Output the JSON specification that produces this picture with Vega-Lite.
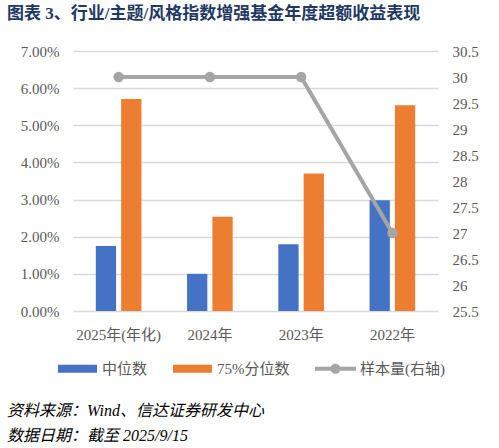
{
  "$schema": "https://vega.github.io/schema/vega-lite/v6.json",
  "width": 365,
  "height": 260,
  "autosize": {"type": "none"},
  "padding": {"left": 73, "top": 51, "right": 61, "bottom": 137},
  "background": "white",
  "title": {
    "text": "图表 3、行业/主题/风格指数增强基金年度超额收益表现",
    "anchor": "start",
    "frame": "group",
    "dx": -66,
    "offset": 21,
    "fontSize": 17,
    "fontWeight": "bold",
    "color": "#1F3864",
    "font": "Liberation Serif, Noto Sans CJK SC"
  },
  "config": {
    "view": {"stroke": null},
    "font": "Liberation Serif, Noto Sans CJK SC"
  },
  "datasets": {
    "bars": [
      {"year": "2025年(年化)", "series": "中位数", "value": 0.0175},
      {"year": "2025年(年化)", "series": "75%分位数", "value": 0.0571},
      {"year": "2024年", "series": "中位数", "value": 0.0100},
      {"year": "2024年", "series": "75%分位数", "value": 0.0254},
      {"year": "2023年", "series": "中位数", "value": 0.0180},
      {"year": "2023年", "series": "75%分位数", "value": 0.0370},
      {"year": "2022年", "series": "中位数", "value": 0.0298},
      {"year": "2022年", "series": "75%分位数", "value": 0.0554}
    ],
    "sample": [
      {"year": "2025年(年化)", "series": "样本量(右轴)", "n": 30},
      {"year": "2024年", "series": "样本量(右轴)", "n": 30},
      {"year": "2023年", "series": "样本量(右轴)", "n": 30},
      {"year": "2022年", "series": "样本量(右轴)", "n": 27}
    ]
  },
  "layer": [
    {
      "data": {"name": "bars"},
      "mark": {"type": "bar"},
      "encoding": {
        "x": {
          "field": "year",
          "type": "nominal",
          "scale": {"domain": ["2025年(年化)", "2024年", "2023年", "2022年"], "paddingInner": 0.5, "paddingOuter": 0.25},
          "axis": {
            "title": null,
            "labelAngle": 0,
            "domain": false,
            "ticks": false,
            "labelPadding": 16,
            "labelFontSize": 15,
            "labelColor": "#595959",
            "labelFont": "Liberation Serif, Noto Sans CJK SC"
          }
        },
        "xOffset": {
          "field": "series",
          "type": "nominal",
          "scale": {"domain": ["中位数", "75%分位数"], "paddingInner": 0.2, "paddingOuter": 0}
        },
        "y": {
          "field": "value",
          "type": "quantitative",
          "scale": {"domain": [0, 0.07]},
          "axis": {
            "title": null,
            "values": [0, 0.01, 0.02, 0.03, 0.04, 0.05, 0.06, 0.07],
            "format": ".2%",
            "grid": true,
            "gridColor": "#D9D9D9",
            "gridWidth": 1.5,
            "domain": false,
            "ticks": false,
            "labelPadding": 14,
            "labelFontSize": 15,
            "labelColor": "#595959",
            "labelFont": "Liberation Serif"
          }
        },
        "color": {
          "field": "series",
          "type": "nominal",
          "scale": {
            "domain": ["中位数", "75%分位数", "样本量(右轴)"],
            "range": ["#4472C4", "#ED7D31", "#A5A5A5"]
          },
          "legend": {
            "orient": "none",
            "legendX": -66,
            "legendY": 298,
            "direction": "horizontal",
            "title": ["资料来源：Wind、信达证券研发中心", "数据日期：截至 2025/9/15"],
            "titleOrient": "bottom",
            "titleAnchor": "start",
            "titleFontSize": 16,
            "titleFontStyle": "italic",
            "titleFontWeight": "normal",
            "titleColor": "#000000",
            "titleLineHeight": 25,
            "titlePadding": 26,
            "titleLimit": 1000,
            "titleFont": "Liberation Serif, Noto Sans CJK SC",
            "labelFontSize": 15,
            "labelColor": "#595959",
            "labelFont": "Liberation Serif, Noto Sans CJK SC",
            "labelOffset": 5,
            "labelLimit": 300,
            "symbolSize": 1521,
            "columnPadding": 25,
            "encode": {
              "symbols": {
                "update": {
                  "shape": {"signal": "datum.value === '样本量(右轴)' ? 'M-1.05,-0.1L-0.25,-0.1L-0.25,0.1L-1.05,0.1Z M0.25,-0.1L1.05,-0.1L1.05,0.1L0.25,0.1Z M-0.26,0A0.26,0.26 0 1,1 0.26,0A0.26,0.26 0 1,1 -0.26,0Z' : 'M-1,-0.2L1,-0.2L1,0.2L-1,0.2Z'"},
                  "fill": {"signal": "scale('color', datum.value)"},
                  "stroke": {"value": "transparent"},
                  "strokeWidth": {"value": 0},
                  "opacity": {"value": 1},
                  "fillOpacity": {"value": 1}
                }
              },
              "title": {
                "update": {"dx": {"value": -51}}
              }
            }
          }
        }
      }
    },
    {
      "data": {"name": "sample"},
      "mark": {"type": "line", "strokeWidth": 4, "point": {"filled": true, "size": 110}},
      "encoding": {
        "x": {"field": "year", "type": "nominal"},
        "y": {
          "field": "n",
          "type": "quantitative",
          "scale": {"domain": [25.5, 30.5]},
          "axis": {
            "orient": "right",
            "title": null,
            "values": [25.5, 26, 26.5, 27, 27.5, 28, 28.5, 29, 29.5, 30, 30.5],
            "format": ".3~r",
            "grid": false,
            "domain": false,
            "ticks": false,
            "labelPadding": 14,
            "labelFontSize": 15,
            "labelColor": "#595959",
            "labelFont": "Liberation Serif"
          }
        },
        "color": {"field": "series", "type": "nominal"}
      }
    }
  ],
  "resolve": {"scale": {"y": "independent"}}
}
